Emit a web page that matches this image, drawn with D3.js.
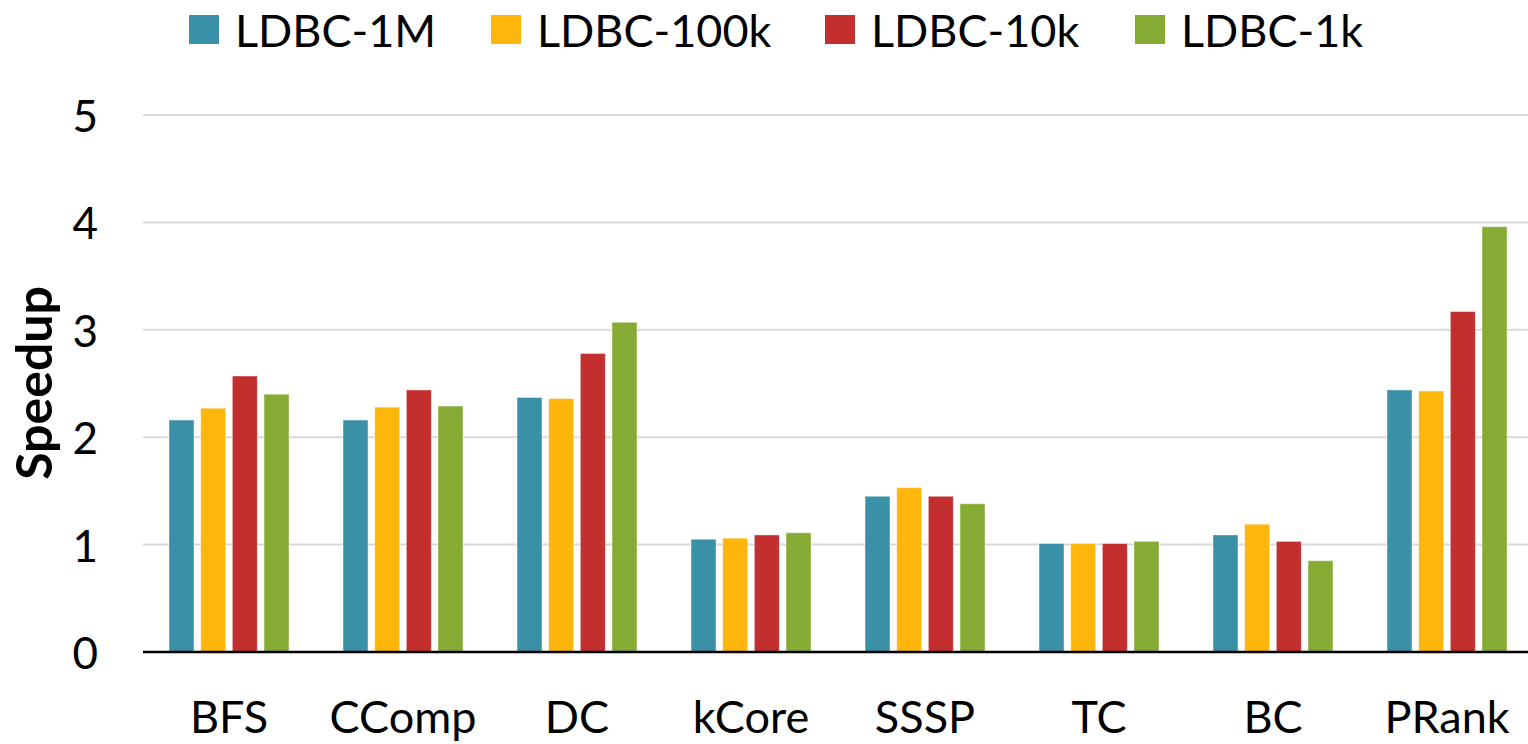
<!DOCTYPE html>
<html>
<head>
<meta charset="utf-8">
<script src="https://cdn.jsdelivr.net/npm/d3@7"></script>
<style>
  html, body { margin: 0; padding: 0; background: #fff; }
  svg { display: block; font-family: Lato, "Open Sans", sans-serif; }
</style>
</head>
<body>
<svg id="chart" width="1528" height="744"></svg>
<script>
const categories = ["BFS", "CComp", "DC", "kCore", "SSSP", "TC", "BC", "PRank"];
const seriesNames = ["LDBC-1M", "LDBC-100k", "LDBC-10k", "LDBC-1k"];
const ldbc1M   = [2.16, 2.16, 2.37, 1.05, 1.45, 1.01, 1.09, 2.44];
const ldbc100k = [2.27, 2.28, 2.36, 1.06, 1.53, 1.01, 1.19, 2.43];
const ldbc10k  = [2.57, 2.44, 2.78, 1.09, 1.45, 1.01, 1.03, 3.17];
const ldbc1k   = [2.40, 2.29, 3.07, 1.11, 1.38, 1.03, 0.85, 3.96];
const yTicks = [0, 1, 2, 3, 4, 5];
const yLabel = "Speedup";

const seriesValues = [ldbc1M, ldbc100k, ldbc10k, ldbc1k];
const colors = ["#3A91A7", "#FEB60C", "#C32E2F", "#86AB35"];

const svg = d3.select("#chart");
const plotLeft = 143, plotRight = 1528, bandLeft = 142, bandRight = 1534;
const yTop = 115, yBottom = 652;

const x0 = d3.scaleBand().domain(categories).range([bandLeft, bandRight]).paddingInner(0).paddingOuter(0);
const groupW = 120;
const x1 = d3.scaleBand().domain(seriesNames)
  .range([(x0.bandwidth() - groupW) / 2, (x0.bandwidth() + groupW) / 2])
  .paddingInner(0.21).paddingOuter(0);
const y = d3.scaleLinear().domain([0, 5]).range([yBottom, yTop]);

// gridlines
svg.append("g").selectAll("line").data(yTicks.filter(d => d > 0)).join("line")
  .attr("x1", plotLeft).attr("x2", plotRight)
  .attr("y1", d => y(d)).attr("y2", d => y(d))
  .attr("stroke", "#d9d9d9").attr("stroke-width", 2);

// y tick labels
svg.append("g").selectAll("text").data(yTicks).join("text")
  .attr("x", 98).attr("y", d => y(d))
  .attr("text-anchor", "end").attr("dominant-baseline", "central")
  .attr("font-size", 44).attr("fill", "#000")
  .text(d => d);

// bars
const groups = svg.append("g").selectAll("g").data(categories).join("g")
  .attr("transform", c => `translate(${x0(c)},0)`);
groups.selectAll("rect")
  .data((c, i) => seriesNames.map((s, j) => ({ s, j, v: seriesValues[j][i] })))
  .join("rect")
  .attr("x", d => x1(d.s))
  .attr("width", x1.bandwidth())
  .attr("y", d => y(d.v))
  .attr("height", d => y(0) - y(d.v))
  .attr("fill", d => colors[d.j])
  .attr("stroke", "#ffffff").attr("stroke-opacity", 0.45).attr("stroke-width", 1);

// x axis line
svg.append("line")
  .attr("x1", plotLeft).attr("x2", plotRight)
  .attr("y1", y(0)).attr("y2", y(0))
  .attr("stroke", "#000").attr("stroke-width", 2.5);

// x labels
svg.append("g").selectAll("text").data(categories).join("text")
  .attr("x", c => x0(c) + x0.bandwidth() / 2)
  .attr("y", 733)
  .attr("text-anchor", "middle")
  .attr("font-size", 45).attr("fill", "#000")
  .text(c => c);

// y label
svg.append("text")
  .attr("transform", "translate(52,383) rotate(-90)")
  .attr("text-anchor", "middle")
  .attr("font-size", 50).attr("font-weight", "bold").attr("fill", "#000")
  .text(yLabel);

// legend
const legendX = [189, 491, 825, 1135];
const legend = svg.append("g").selectAll("g").data(seriesNames).join("g")
  .attr("transform", (d, i) => `translate(${legendX[i]},0)`);
legend.append("rect").attr("x", 0).attr("y", 15).attr("width", 30).attr("height", 29)
  .attr("fill", (d, i) => colors[i]);
legend.append("text").attr("x", 46).attr("y", 47)
  .attr("font-size", 45).attr("fill", "#000")
  .text(d => d);
</script>
</body>
</html>
